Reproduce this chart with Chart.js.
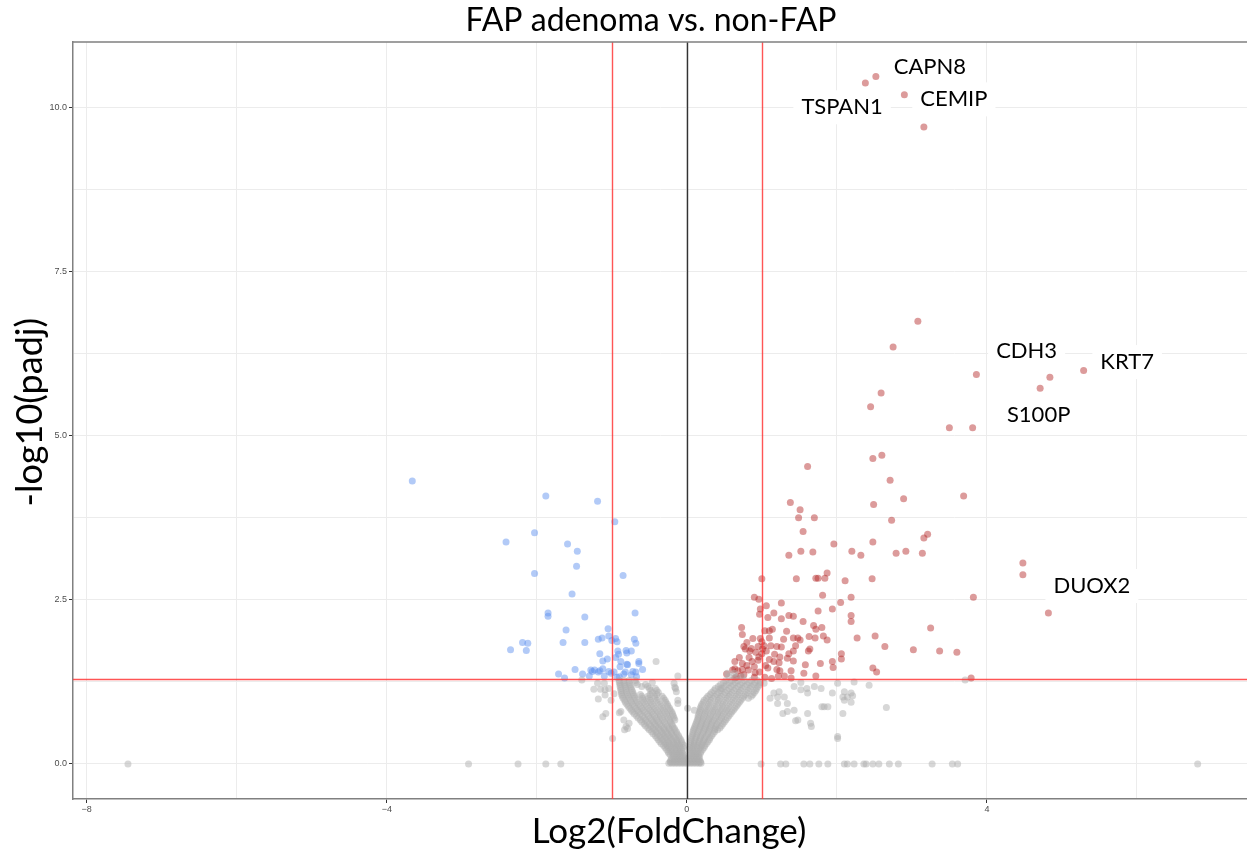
<!DOCTYPE html>
<html><head><meta charset="utf-8">
<script src="https://cdn.jsdelivr.net/npm/chart.js@4.4.1/dist/chart.umd.min.js"></script>
<style>html,body{margin:0;padding:0;background:#fff;overflow:hidden}#wrap{width:1247px;height:855px;overflow:hidden}</style>
</head><body><div id="wrap"><canvas id="c" width="1252" height="855"></canvas></div>
<script>
// ---------- data (log2 fold change, -log10 padj) ----------
const grayPoints = [
[-0.24,0.01],[-0.20,0.01],[-0.16,0.01],[-0.12,0.01],[-0.08,0.01],[-0.04,0.01],[0.00,0.01],[0.04,0.01],[0.08,0.01],[0.12,0.01],[0.16,0.01],[0.19,0.01],
[-0.22,0.025],[-0.18,0.025],[-0.14,0.025],[-0.10,0.025],[-0.06,0.025],[-0.02,0.025],[0.02,0.025],[0.06,0.025],[0.10,0.025],[0.14,0.025],[0.18,0.025],
[-0.22,0.04],[-0.17,0.04],[-0.13,0.04],[-0.09,0.04],[-0.05,0.04],[-0.01,0.04],[0.03,0.04],[0.07,0.04],[0.11,0.04],[0.15,0.04],[0.18,0.04],
[-0.21,0.065],[-0.16,0.065],[-0.12,0.065],[-0.08,0.065],[-0.04,0.065],[0.00,0.065],[0.04,0.065],[0.08,0.065],[0.12,0.065],[0.16,0.065],
[-0.20,0.09],[-0.15,0.09],[-0.11,0.09],[-0.07,0.09],[-0.03,0.09],[0.02,0.09],[0.06,0.09],[0.10,0.09],[0.14,0.09],[0.17,0.09],
[-0.18,0.115],[-0.13,0.115],[-0.09,0.115],[-0.05,0.115],[0.05,0.115],[0.09,0.115],[0.13,0.115],[0.16,0.115],
[-0.22,0.14],[-0.17,0.14],[-0.12,0.14],[-0.08,0.14],[-0.04,0.14],[0.04,0.14],[0.08,0.14],[0.12,0.14],[0.16,0.14],
[-0.24,0.165],[-0.19,0.165],[-0.14,0.165],[-0.10,0.165],[-0.06,0.165],[0.06,0.165],[0.10,0.165],[0.14,0.165],[0.18,0.165],
[-0.25,0.19],[-0.20,0.19],[-0.15,0.19],[-0.10,0.19],[-0.06,0.19],[0.05,0.19],[0.09,0.19],[0.14,0.19],[0.19,0.19],
[-0.27,0.22],[-0.22,0.22],[-0.17,0.22],[-0.12,0.22],[-0.07,0.22],[0.03,0.22],[0.07,0.22],[0.11,0.22],[0.16,0.22],[0.21,0.22],
[-0.29,0.25],[-0.24,0.25],[-0.19,0.25],[-0.14,0.25],[-0.09,0.25],[-0.05,0.25],[0.04,0.25],[0.08,0.25],[0.13,0.25],[0.18,0.25],[0.23,0.25],
[-0.31,0.28],[-0.26,0.28],[-0.21,0.28],[-0.15,0.28],[-0.10,0.28],[-0.04,0.28],[0.05,0.28],[0.09,0.28],[0.14,0.28],[0.19,0.28],[0.24,0.28],
[-0.34,0.31],[-0.28,0.31],[-0.23,0.31],[-0.17,0.31],[-0.12,0.31],[-0.06,0.31],[0.05,0.31],[0.10,0.31],[0.15,0.31],[0.20,0.31],[0.26,0.31],
[-0.36,0.34],[-0.30,0.34],[-0.24,0.34],[-0.18,0.34],[-0.13,0.34],[-0.07,0.34],[0.05,0.34],[0.10,0.34],[0.16,0.34],[0.22,0.34],[0.28,0.34],
[-0.38,0.37],[-0.32,0.37],[-0.26,0.37],[-0.20,0.37],[-0.14,0.37],[-0.08,0.37],[0.06,0.37],[0.11,0.37],[0.17,0.37],[0.23,0.37],[0.30,0.37],
[-0.40,0.40],[-0.34,0.40],[-0.28,0.40],[-0.22,0.40],[-0.16,0.40],[-0.10,0.40],[0.06,0.40],[0.12,0.40],[0.18,0.40],[0.24,0.40],[0.31,0.40],
[-0.42,0.43],[-0.36,0.43],[-0.30,0.43],[-0.24,0.43],[-0.18,0.43],[-0.11,0.43],[0.07,0.43],[0.13,0.43],[0.19,0.43],[0.26,0.43],[0.33,0.43],
[-0.45,0.46],[-0.39,0.46],[-0.32,0.46],[-0.26,0.46],[-0.20,0.46],[-0.13,0.46],[0.08,0.46],[0.14,0.46],[0.21,0.46],[0.28,0.46],[0.35,0.46],
[-0.47,0.49],[-0.41,0.49],[-0.34,0.49],[-0.28,0.49],[-0.21,0.49],[-0.14,0.49],[0.08,0.49],[0.15,0.49],[0.22,0.49],[0.29,0.49],[0.37,0.49],
[-0.50,0.52],[-0.43,0.52],[-0.36,0.52],[-0.30,0.52],[-0.23,0.52],[-0.16,0.52],[0.09,0.52],[0.16,0.52],[0.23,0.52],[0.30,0.52],[0.37,0.52],[0.41,0.52],
[-0.52,0.55],[-0.45,0.55],[-0.38,0.55],[-0.31,0.55],[-0.24,0.55],[-0.17,0.55],[0.10,0.55],[0.17,0.55],[0.24,0.55],[0.31,0.55],[0.38,0.55],[0.44,0.55],
[-0.55,0.58],[-0.48,0.58],[-0.41,0.58],[-0.34,0.58],[-0.26,0.58],[-0.19,0.58],[0.11,0.58],[0.18,0.58],[0.25,0.58],[0.32,0.58],[0.39,0.58],[0.46,0.58],
[-0.57,0.61],[-0.50,0.61],[-0.43,0.61],[-0.36,0.61],[-0.28,0.61],[-0.20,0.61],[0.12,0.61],[0.19,0.61],[0.26,0.61],[0.33,0.61],[0.40,0.61],[0.48,0.61],
[-0.60,0.64],[-0.53,0.64],[-0.45,0.64],[-0.38,0.64],[-0.30,0.64],[-0.22,0.64],[0.13,0.64],[0.20,0.64],[0.27,0.64],[0.34,0.64],[0.42,0.64],[0.50,0.64],
[-0.62,0.67],[-0.55,0.67],[-0.47,0.67],[-0.40,0.67],[-0.32,0.67],[-0.23,0.67],[-0.16,0.67],[0.14,0.67],[0.21,0.67],[0.29,0.67],[0.36,0.67],[0.44,0.67],[0.52,0.67],
[-0.65,0.70],[-0.57,0.70],[-0.49,0.70],[-0.41,0.70],[-0.33,0.70],[-0.25,0.70],[-0.17,0.70],[0.15,0.70],[0.22,0.70],[0.30,0.70],[0.38,0.70],[0.46,0.70],[0.54,0.70],
[-0.67,0.73],[-0.59,0.73],[-0.51,0.73],[-0.43,0.73],[-0.35,0.73],[-0.26,0.73],[-0.18,0.73],[0.15,0.73],[0.23,0.73],[0.31,0.73],[0.39,0.73],[0.47,0.73],[0.56,0.73],
[-0.70,0.76],[-0.62,0.76],[-0.53,0.76],[-0.45,0.76],[-0.36,0.76],[-0.27,0.76],[-0.19,0.76],[0.16,0.76],[0.24,0.76],[0.32,0.76],[0.41,0.76],[0.49,0.76],[0.58,0.76],
[-0.72,0.79],[-0.64,0.79],[-0.56,0.79],[-0.47,0.79],[-0.38,0.79],[-0.29,0.79],[-0.20,0.79],[0.17,0.79],[0.25,0.79],[0.34,0.79],[0.42,0.79],[0.51,0.79],[0.60,0.79],
[-0.74,0.82],[-0.66,0.82],[-0.58,0.82],[-0.49,0.82],[-0.40,0.82],[-0.31,0.82],[-0.22,0.82],[0.18,0.82],[0.26,0.82],[0.35,0.82],[0.44,0.82],[0.53,0.82],[0.62,0.82],
[-0.76,0.85],[-0.68,0.85],[-0.60,0.85],[-0.51,0.85],[-0.42,0.85],[-0.32,0.85],[-0.23,0.85],[0.18,0.85],[0.27,0.85],[0.36,0.85],[0.45,0.85],[0.54,0.85],[0.64,0.85],
[-0.78,0.88],[-0.70,0.88],[-0.62,0.88],[-0.53,0.88],[-0.44,0.88],[-0.34,0.88],[-0.25,0.88],[0.19,0.88],[0.28,0.88],[0.37,0.88],[0.47,0.88],[0.56,0.88],[0.66,0.88],
[-0.80,0.91],[-0.72,0.91],[-0.64,0.91],[-0.55,0.91],[-0.46,0.91],[-0.36,0.91],[-0.26,0.91],[0.20,0.91],[0.29,0.91],[0.39,0.91],[0.48,0.91],[0.58,0.91],[0.68,0.91],
[-0.82,0.94],[-0.74,0.94],[-0.66,0.94],[-0.57,0.94],[-0.48,0.94],[-0.38,0.94],[-0.28,0.94],[0.22,0.94],[0.31,0.94],[0.41,0.94],[0.50,0.94],[0.60,0.94],[0.70,0.94],
[-0.83,0.97],[-0.75,0.97],[-0.67,0.97],[-0.58,0.97],[-0.49,0.97],[-0.40,0.97],[-0.29,0.97],[0.23,0.97],[0.32,0.97],[0.42,0.97],[0.52,0.97],[0.62,0.97],[0.72,0.97],
[-0.85,1.00],[-0.77,1.00],[-0.69,1.00],[-0.59,1.00],[-0.51,1.00],[-0.42,1.00],[-0.31,1.00],[0.26,1.00],[0.35,1.00],[0.44,1.00],[0.54,1.00],[0.64,1.00],[0.74,1.00],[0.82,1.00],
[-0.86,1.03],[-0.78,1.03],[-0.70,1.03],[-0.60,1.03],[-0.52,1.03],[-0.43,1.03],[-0.33,1.03],[0.28,1.03],[0.37,1.03],[0.46,1.03],[0.56,1.03],[0.66,1.03],[0.76,1.03],[0.86,1.03],
[-0.87,1.06],[-0.79,1.06],[-0.71,1.06],[-0.62,1.06],[-0.49,1.06],[-0.40,1.06],[0.31,1.06],[0.40,1.06],[0.49,1.06],[0.58,1.06],[0.68,1.06],[0.78,1.06],[0.88,1.06],
[-0.87,1.09],[-0.80,1.09],[-0.72,1.09],[-0.46,1.09],[-0.38,1.09],[0.33,1.09],[0.42,1.09],[0.51,1.09],[0.60,1.09],[0.70,1.09],[0.80,1.09],[0.90,1.09],
[-0.88,1.12],[-0.81,1.12],[-0.73,1.12],[-0.48,1.12],[-0.40,1.12],[0.36,1.12],[0.45,1.12],[0.54,1.12],[0.63,1.12],[0.72,1.12],[0.82,1.12],[0.92,1.12],
[-0.88,1.15],[-0.81,1.15],[-0.74,1.15],[-0.50,1.15],[-0.42,1.15],[0.38,1.15],[0.47,1.15],[0.56,1.15],[0.65,1.15],[0.74,1.15],[0.84,1.15],[0.93,1.15],
[-0.89,1.18],[-0.82,1.18],[-0.75,1.18],[-0.60,1.18],[-0.52,1.18],[0.42,1.18],[0.50,1.18],[0.59,1.18],[0.68,1.18],[0.77,1.18],[0.86,1.18],[0.95,1.18],
[-0.89,1.21],[-0.83,1.21],[-0.76,1.21],[-0.66,1.21],[-0.55,1.21],[0.45,1.21],[0.53,1.21],[0.62,1.21],[0.71,1.21],[0.80,1.21],[0.89,1.21],[0.97,1.21],
[-0.90,1.24],[-0.84,1.24],[-0.77,1.24],[-0.68,1.24],[0.49,1.24],[0.57,1.24],[0.65,1.24],[0.74,1.24],[0.83,1.24],[0.91,1.24],[0.98,1.24],
[-0.90,1.27],[-0.84,1.27],[-0.77,1.27],[-0.69,1.27],[0.52,1.27],[0.60,1.27],[0.68,1.27],[0.77,1.27],[0.86,1.27],[0.94,1.27],
[0.56,1.33],[0.65,1.33],[0.74,1.33],[0.54,1.38],[0.63,1.38],
[-0.41,1.56],[-0.12,1.34],[-0.15,1.15],[-0.14,1.10],[-0.46,1.24],[-0.17,1.23],[-0.16,1.17],[-0.12,0.97],[-0.12,0.92],
[-0.99,0.39],[-0.77,0.62],[-0.79,0.54],[-0.84,0.67],[-1.12,0.72],[-1.08,0.77],[-0.90,0.78],[-0.83,0.52],[-0.81,0.57],
[-1.24,1.14],[-1.18,0.99],[-1.15,1.14],[-1.09,1.13],[-1.04,1.15],[-1.09,1.05],[-1.01,0.97],[-0.97,1.07],[-1.10,1.23],[-1.19,1.23],[-1.40,1.28],[-0.88,0.80],
[0.01,0.85],[0.10,0.82],[0.45,1.15],[1.11,1.00],[1.21,1.02],
[1.03,1.23],[1.16,1.08],[1.23,1.10],[1.30,1.02],[1.34,0.92],[1.43,0.82],[1.48,0.67],[1.61,0.77],[1.65,0.62],[1.83,0.87],[1.88,0.87],[2.01,1.23],[2.01,0.39],
[2.10,1.10],[2.14,1.02],[2.19,1.08],[2.23,1.25],[1.43,1.18],[1.52,1.13],[1.61,1.08],[1.70,1.18],[1.21,0.92],[1.28,0.77],[2.08,0.77],[2.43,1.20],[2.21,1.04],
[2.19,0.94],[2.66,0.86],[3.71,1.28],[1.60,1.15],[1.52,1.24],[1.79,1.15],[1.94,1.08],[2.08,1.02],[1.34,0.80],[1.45,0.66],[1.80,0.87],[2.10,0.97],[2.01,0.42],[1.66,0.57],
[-7.45,0],[-2.91,0],[-2.25,0],[-1.88,0],[-1.68,0],[0.99,0],[1.25,0],[1.32,0],[1.56,0],[1.64,0],[1.76,0],[1.88,0],[2.10,0],[2.14,0],[2.23,0],[2.36,0],[2.39,0],
[2.48,0],[2.56,0],[2.70,0],[2.82,0],[3.27,0],[3.54,0],[3.61,0],[6.81,0]
];
const bluePoints = [
[-3.66,4.31],[-1.88,4.08],[-1.19,4.00],[-0.96,3.69],[-2.03,3.52],[-2.41,3.38],[-1.59,3.35],[-1.46,3.24],[-1.47,3.01],[-0.85,2.87],[-2.03,2.90],[-1.53,2.59],
[-1.85,2.30],[-1.85,2.25],[-1.36,2.24],[-0.69,2.30],[-1.61,2.04],[-1.05,2.06],[-1.04,1.95],[-1.13,1.92],[-1.18,1.90],[-0.95,1.91],[-1.00,1.88],[-0.93,1.86],
[-0.70,1.90],[-0.68,1.84],[-1.65,1.85],[-1.36,1.85],[-2.19,1.85],[-2.12,1.84],[-2.35,1.74],[-2.14,1.73],[-1.16,1.68],[-0.92,1.72],[-0.91,1.67],[-0.81,1.73],
[-0.80,1.69],[-0.74,1.72],[-1.06,1.60],[-1.12,1.57],[-0.95,1.62],[-0.64,1.56],[-0.64,1.53],[-0.79,1.51],[-0.89,1.48],[-0.59,1.44],[-1.49,1.44],[-1.28,1.43],
[-1.23,1.43],[-1.16,1.42],[-1.12,1.45],[-1.18,1.40],[-1.26,1.41],[-1.04,1.41],[-1.01,1.38],[-0.97,1.40],[-0.82,1.40],[-0.84,1.37],[-0.72,1.41],[-0.68,1.40],
[-0.74,1.36],[-1.71,1.37],[-1.63,1.31],[-1.39,1.37],[-1.30,1.34],[-0.93,1.32],[-0.90,1.33],[-0.67,1.33],[-1.10,1.34],[-0.88,1.56],[-0.80,1.52]
];
const redPoints = [
[2.38,10.37],[2.52,10.47],[2.90,10.19],[3.16,9.70],[3.08,6.74],[2.75,6.35],[3.86,5.93],[4.84,5.89],[5.29,5.99],[4.71,5.72],[2.59,5.65],[2.45,5.44],
[3.50,5.12],[3.81,5.12],[2.48,4.65],[2.60,4.70],[4.48,3.06],[4.48,2.88],[4.82,2.30],
[1.61,4.53],[2.71,4.32],[2.89,4.04],[3.69,4.08],[2.49,3.95],[1.38,3.98],[1.51,3.87],[1.49,3.75],[1.70,3.75],[2.73,3.71],[1.55,3.54],[3.21,3.50],[3.16,3.44],
[2.48,3.38],[1.96,3.35],[2.20,3.24],[2.32,3.18],[1.52,3.24],[1.68,3.23],[1.36,3.18],[2.79,3.21],[2.92,3.24],[3.14,3.21],[1.87,2.91],[1.72,2.83],[1.75,2.83],
[1.84,2.83],[1.46,2.82],[2.11,2.79],[2.47,2.82],[1.00,2.82],[1.81,2.57],[2.19,2.54],[3.82,2.54],[0.90,2.54],[0.96,2.51],[1.06,2.41],[1.26,2.45],[2.05,2.46],
[0.98,2.36],[1.94,2.36],[1.75,2.33],[0.97,2.28],[1.16,2.30],[1.36,2.26],[1.42,2.25],[1.08,2.23],[1.26,2.21],[2.19,2.26],[2.19,2.17],[1.55,2.17],[1.69,2.11],
[1.80,2.08],[1.72,2.05],[0.73,2.08],[1.14,2.05],[1.04,2.03],[1.10,2.03],[1.33,2.02],[3.25,2.07],[0.74,1.97],[1.63,1.94],[1.82,1.95],[2.51,1.95],[0.88,1.91],
[0.98,1.91],[1.10,1.92],[1.29,1.90],[1.42,1.92],[1.48,1.92],[1.51,1.89],[1.71,1.92],[1.87,1.89],[2.27,1.92],[0.76,1.79],[0.78,1.75],[0.84,1.72],[0.95,1.79],
[1.01,1.75],[1.03,1.80],[1.12,1.80],[1.20,1.79],[1.26,1.78],[1.17,1.67],[1.24,1.63],[1.36,1.68],[1.42,1.72],[1.45,1.80],[1.34,1.61],[1.62,1.72],[1.64,1.75],
[2.64,1.79],[3.02,1.74],[3.37,1.72],[3.60,1.70],[2.06,1.68],[2.06,1.60],[0.64,1.56],[0.74,1.53],[0.87,1.56],[0.95,1.58],[0.96,1.63],[1.10,1.59],[1.16,1.56],
[1.23,1.54],[1.42,1.57],[1.58,1.51],[1.78,1.53],[1.94,1.56],[1.95,1.47],[0.61,1.43],[0.68,1.42],[0.74,1.44],[0.82,1.43],[0.91,1.39],[0.97,1.40],[1.08,1.46],
[1.20,1.44],[1.24,1.42],[1.30,1.34],[1.39,1.42],[1.56,1.38],[1.72,1.34],[2.48,1.46],[2.53,1.40],[0.64,1.31],[0.72,1.34],[0.76,1.36],[0.90,1.32],[1.04,1.32],
[1.13,1.30],[1.22,1.34],[1.39,1.31],[3.79,1.31],
[0.80,1.85],[0.86,1.76],[0.92,1.70],[1.00,1.68],[0.83,1.62],[0.90,1.48],[1.05,1.50],[0.70,1.62],[0.80,1.50],[1.00,1.86],[1.06,1.72],
[0.53,1.37],[0.64,1.45],[0.66,1.32]
];
const geneLabels = ['CAPN8','CEMIP','TSPAN1','CDH3','KRT7','S100P','DUOX2'];
const geneLabelX = [3.24,3.56,2.07,4.53,5.87,4.69,5.40];
const geneLabelY = [10.62,10.12,10.00,6.29,6.12,5.31,2.71];
const xGridValues = [-8,-6,-4,-2,0,2,4,6];
const xTickText = {'-8':'\u22128','-4':'\u22124','0':'0','4':'4'};
const yGridValues = [0,1.25,2.5,3.75,5,6.25,7.5,8.75,10];
const yTickText = {'0':'0.0','2.5':'2.5','5':'5.0','7.5':'7.5','10':'10.0'};
const fcCutoff = 1;
const padjCutoff = 1.301;
const chartTitle = 'FAP adenoma vs. non-FAP';
const xTitle = 'Log2(FoldChange)';
const yTitle = '-log10(padj)';

// ---------- chart ----------
const toXY = arr => arr.map(p => ({x: p[0], y: p[1]}));
const FONT_FAMILY = 'Lato, "Open Sans", sans-serif';

const overlay = {
  id: 'overlay',
  afterDatasetsDraw(chart) {
    const {ctx, chartArea: a, scales: {x, y}} = chart;
    ctx.save();
    ctx.beginPath();
    ctx.rect(a.left, a.top, a.right - a.left, a.bottom - a.top);
    ctx.clip();
    ctx.lineWidth = 1.4;
    ctx.strokeStyle = 'rgba(255,55,55,0.85)';
    [-fcCutoff, fcCutoff].forEach(v => {
      const px = Math.round(x.getPixelForValue(v)) + 0.5;
      ctx.beginPath(); ctx.moveTo(px, a.top); ctx.lineTo(px, a.bottom); ctx.stroke();
    });
    const py = Math.round(y.getPixelForValue(padjCutoff)) + 0.5;
    ctx.beginPath(); ctx.moveTo(a.left, py); ctx.lineTo(a.right, py); ctx.stroke();
    ctx.strokeStyle = '#333';
    const zx = Math.round(x.getPixelForValue(0)) + 0.5;
    ctx.beginPath(); ctx.moveTo(zx, a.top); ctx.lineTo(zx, a.bottom); ctx.stroke();
    ctx.restore();

    // panel border (top / right)
    ctx.save();
    ctx.strokeStyle = '#808080';
    ctx.lineWidth = 1.5;
    ctx.beginPath();
    ctx.moveTo(a.left, a.top); ctx.lineTo(a.right, a.top); ctx.lineTo(a.right, a.bottom);
    ctx.stroke();
    ctx.restore();

    // gene labels
    ctx.save();
    ctx.font = '22px ' + FONT_FAMILY;
    ctx.textAlign = 'center';
    ctx.textBaseline = 'middle';
    geneLabels.forEach((g, i) => {
      const cx = x.getPixelForValue(geneLabelX[i]);
      const cy = y.getPixelForValue(geneLabelY[i]);
      const w = ctx.measureText(g).width;
      ctx.fillStyle = '#fff';
      ctx.fillRect(cx - w / 2 - 8, cy - 17, w + 16, 34);
      ctx.fillStyle = '#000';
      ctx.fillText(g, cx, cy);
    });
    ctx.restore();
  },
  afterDraw(chart) {
    const {ctx, chartArea: a} = chart;
    ctx.save();
    ctx.fillStyle = '#000';
    ctx.textAlign = 'center';
    ctx.textBaseline = 'middle';
    ctx.font = '32px ' + FONT_FAMILY;
    ctx.fillText(chartTitle, 651, 21);
    ctx.font = '35px ' + FONT_FAMILY;
    ctx.fillText(xTitle, 669, 832);
    ctx.translate(30, a.top + (a.bottom - a.top) * 0.489);
    ctx.rotate(-Math.PI / 2);
    ctx.font = '36px ' + FONT_FAMILY;
    ctx.fillText(yTitle, 0, 0);
    ctx.restore();
  }
};

new Chart(document.getElementById('c'), {
  type: 'scatter',
  data: {
    datasets: [
      {label: 'NS', data: toXY(grayPoints), backgroundColor: 'rgba(175,175,175,0.5)', pointRadius: 3.5, borderWidth: 0},
      {label: 'Down', data: toXY(bluePoints), backgroundColor: 'rgba(95,145,238,0.48)', pointRadius: 3.5, borderWidth: 0},
      {label: 'Up', data: toXY(redPoints), backgroundColor: 'rgba(178,34,34,0.45)', pointRadius: 3.5, borderWidth: 0}
    ]
  },
  options: {
    responsive: false,
    animation: false,
    devicePixelRatio: 1,
    layout: {padding: {top: 42, right: 0, left: 0, bottom: 0}},
    plugins: {
      legend: {display: false},
      tooltip: {enabled: false},
      title: {display: false}
    },
    scales: {
      x: {
        type: 'linear', min: -8.183, max: 7.481,
        afterBuildTicks: s => { s.ticks = xGridValues.map(v => ({value: v})); },
        afterFit: s => { s.height = 56; s.paddingLeft = 0; s.paddingRight = 0; },
        ticks: {
          autoSkip: false, maxRotation: 0, padding: 1, color: '#4d4d4d',
          font: {family: '"Liberation Sans", Arial, sans-serif', size: 9},
          callback: v => xTickText[String(v)] || ''
        },
        grid: {
          color: '#ececec', lineWidth: 1, tickLength: 4,
          tickColor: c => (c.tick && xTickText[String(c.tick.value)]) ? '#333' : 'rgba(0,0,0,0)'
        },
        border: {display: true, color: '#808080', width: 1.5},
        title: {display: false}
      },
      y: {
        type: 'linear', min: -0.533, max: 10.994,
        afterBuildTicks: s => { s.ticks = yGridValues.map(v => ({value: v})); },
        afterFit: s => { s.width = 73; },
        ticks: {
          autoSkip: false, padding: 2, color: '#4d4d4d',
          font: {family: '"Liberation Sans", Arial, sans-serif', size: 9},
          callback: v => yTickText[String(v)] || ''
        },
        grid: {
          color: '#ececec', lineWidth: 1, tickLength: 4,
          tickColor: c => (c.tick && yTickText[String(c.tick.value)]) ? '#333' : 'rgba(0,0,0,0)'
        },
        border: {display: true, color: '#808080', width: 1.5},
        title: {display: false}
      }
    }
  },
  plugins: [overlay]
});
</script>
</body></html>
